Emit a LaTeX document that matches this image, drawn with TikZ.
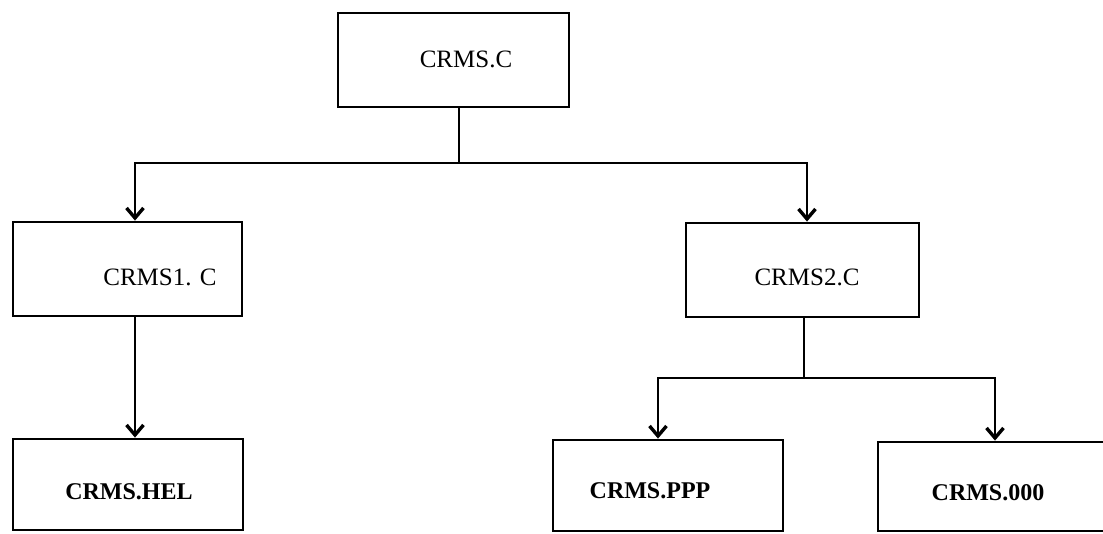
\documentclass[tikz,border=0pt]{standalone}
\usepackage{fontspec}
\setmainfont{Liberation Serif}
\usetikzlibrary{arrows.meta}
\begin{document}
\begin{tikzpicture}[x=1pt,y=-1pt,
  box/.style={draw,line width=2.8pt,inner sep=0pt},
  lbl/.style={inner sep=0pt,font=\fontsize{25}{25}\selectfont},
  blbl/.style={inner sep=0pt,font=\fontsize{24}{24}\selectfont\bfseries},
  wire/.style={line width=2.8pt},
  arr/.style={line width=2.8pt,-{Straight Barb[length=10pt,width=17pt,line width=3.4pt]}}]
\useasboundingbox (0,0) rectangle (1103,534);
\clip (0,0) rectangle (1103,534);
% boxes
\node[box,minimum width=231pt,minimum height=94pt] (top) at (453.5,60) {};
\node[box,minimum width=229pt,minimum height=94pt] (b1) at (127.5,269) {};
\node[box,minimum width=233pt,minimum height=94pt] (b2) at (802.5,270) {};
\node[box,minimum width=230pt,minimum height=91pt] (hel) at (128,484.5) {};
\node[box,minimum width=230pt,minimum height=91pt] (ppp) at (668,485.5) {};
\node[box,minimum width=232pt,minimum height=89pt] (ooo) at (994,486.5) {};
% labels
\node[lbl] (ttop) at (466,59) {CRMS.C};
\node[lbl] (tb1) at (160,277) {CRMS1. C};
\node[lbl] (tb2) at (807,277) {CRMS2.C};
\node[blbl] (thel) at (129,492) {CRMS.HEL};
\node[blbl] (tppp) at (650,491) {CRMS.PPP};
\node[blbl] (tooo) at (988,493) {CRMS.000};
% junctions
\coordinate (j1) at (459,163);
\coordinate (jl) at (135,163);
\coordinate (jr) at (807,163);
\coordinate (j2) at (804,378);
\coordinate (jpl) at (658,378);
\coordinate (jpr) at (995,378);
% connectors
\draw[wire] (top.south -| j1) -- (j1);
\draw[arr] (j1) -- (jl) -- (jl |- b1.north);
\draw[arr] (j1) -- (jr) -- (jr |- b2.north);
\draw[arr] (b1.south -| jl) -- (jl |- hel.north);
\draw[wire] (b2.south -| j2) -- (j2);
\draw[arr] (j2) -- (jpl) -- (jpl |- ppp.north);
\draw[arr] (j2) -- (jpr) -- (jpr |- ooo.north);
\end{tikzpicture}
\end{document}
